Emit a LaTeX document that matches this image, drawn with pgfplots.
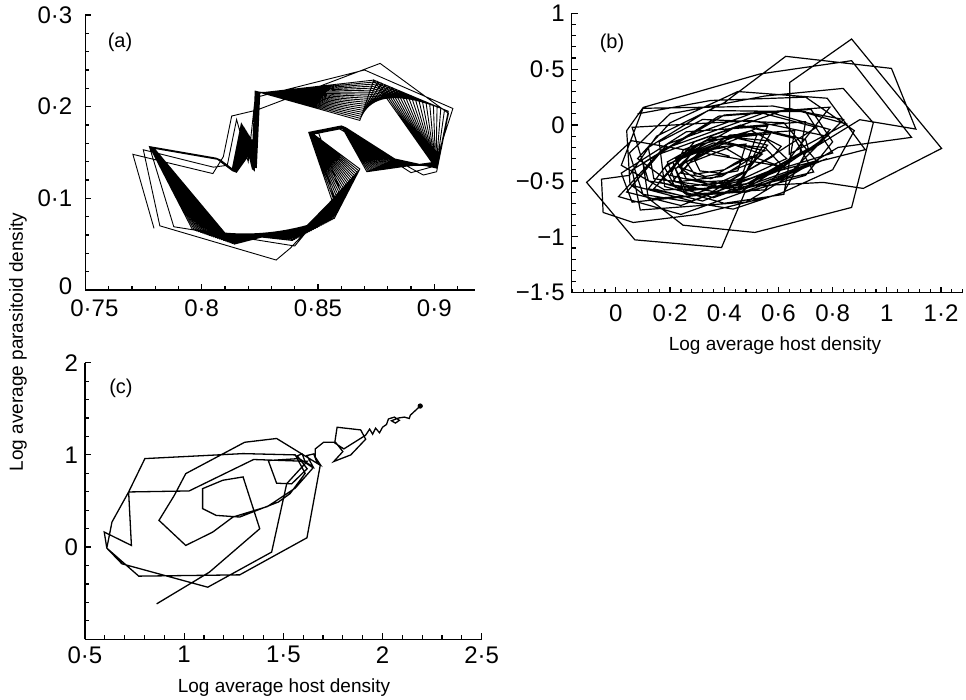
\documentclass[border=0pt]{standalone}
\usepackage{fontspec}
\setmainfont{Liberation Sans}
\usepackage{pgfplots}
\pgfplotsset{compat=1.18}
\begin{document}
\begin{tikzpicture}
\path[use as bounding box] (0pt,0pt) rectangle (483pt,-350pt);
\pgfplotsset{
  every axis/.append style={
    scale only axis, axis x line=bottom, axis y line=left,
    axis line style={-, line width=0.75pt},
    tick style={black, line width=0.6pt},
    major tick length=3pt, minor tick length=2pt, tick align=inside,
    tick label style={font=\fontsize{12}{14}\selectfont},
  }
}
% ---------------- (a)
\begin{axis}[at={(42.7pt,-145pt)}, anchor=south west, width=194.8pt, height=137.5pt,
  xmin=0.75, xmax=0.9175, ymin=0, ymax=0.3,
  xtick={0.75,0.8,0.85,0.9}, xticklabels={\hspace*{9pt}0·75,0·8,0·85,0·9},
  ytick={0,0.1,0.2,0.3}, yticklabels={\raisebox{4pt}{0},0·1,0·2,0·3},
  yticklabel style={xshift=-3pt}, xticklabel style={yshift=-1.5pt},
  minor xtick={0.76,0.77,...,0.915}, minor ytick={0.02,0.04,...,0.29}]
\addplot[black, line width=0.45pt] coordinates {
(0.7795,0.0672)(0.7704,0.1480)(0.8048,0.1270)(0.8093,0.1454)(0.8129,0.1898)(0.8237,0.1963)(0.8767,0.2472)(0.9061,0.1927)(0.9010,0.1290)(0.8953,0.1254)(0.8588,0.1763)(0.8500,0.1730)(0.8600,0.1050)(0.8380,0.0454)(0.8320,0.0327)
(0.7820,0.0700)(0.7749,0.1530)(0.8050,0.1340)(0.8110,0.1360)(0.8150,0.1860)(0.8200,0.1400)(0.8230,0.2100)(0.8700,0.2400)(0.9080,0.1980)(0.9000,0.1350)(0.8900,0.1280)(0.8595,0.1775)(0.8480,0.1730)(0.8570,0.1000)(0.8400,0.0480)(0.7880,0.0690)
(0.7775,0.1565)(0.8060,0.1440)(0.8130,0.1305)(0.8170,0.1810)(0.8215,0.1350)(0.8230,0.2170)(0.8680,0.1850)(0.8740,0.2290)(0.8990,0.1390)(0.8710,0.1290)(0.8600,0.1790)(0.8460,0.1720)(0.8560,0.0980)(0.8390,0.0540)(0.7960,0.0660)
(0.7776,0.1564)(0.8061,0.1439)(0.8131,0.1304)(0.8173,0.1798)(0.8216,0.1349)(0.8231,0.2169)(0.8683,0.1872)(0.8756,0.2273)(0.8991,0.1387)(0.8716,0.1297)(0.8601,0.1789)(0.8461,0.1719)(0.8566,0.0997)(0.8399,0.0552)(0.7969,0.0652)
(0.7777,0.1563)(0.8062,0.1438)(0.8132,0.1303)(0.8176,0.1786)(0.8217,0.1348)(0.8232,0.2168)(0.8686,0.1894)(0.8772,0.2256)(0.8992,0.1384)(0.8722,0.1304)(0.8602,0.1788)(0.8462,0.1718)(0.8572,0.1014)(0.8408,0.0564)(0.7978,0.0644)
(0.7778,0.1562)(0.8063,0.1437)(0.8133,0.1302)(0.8179,0.1774)(0.8218,0.1347)(0.8233,0.2167)(0.8689,0.1916)(0.8788,0.2239)(0.8993,0.1381)(0.8728,0.1311)(0.8603,0.1787)(0.8463,0.1717)(0.8578,0.1031)(0.8417,0.0576)(0.7987,0.0636)
(0.7779,0.1561)(0.8064,0.1436)(0.8134,0.1301)(0.8182,0.1762)(0.8219,0.1346)(0.8234,0.2166)(0.8692,0.1938)(0.8804,0.2222)(0.8994,0.1378)(0.8734,0.1318)(0.8604,0.1786)(0.8464,0.1716)(0.8584,0.1048)(0.8426,0.0588)(0.7996,0.0628)
(0.7780,0.1560)(0.8065,0.1435)(0.8135,0.1300)(0.8185,0.1750)(0.8220,0.1345)(0.8235,0.2165)(0.8695,0.1960)(0.8820,0.2205)(0.8995,0.1375)(0.8740,0.1325)(0.8605,0.1785)(0.8465,0.1715)(0.8590,0.1065)(0.8435,0.0600)(0.8005,0.0620)
(0.7781,0.1559)(0.8066,0.1434)(0.8136,0.1299)(0.8188,0.1738)(0.8221,0.1344)(0.8236,0.2164)(0.8698,0.1982)(0.8836,0.2188)(0.8996,0.1372)(0.8746,0.1332)(0.8606,0.1784)(0.8466,0.1714)(0.8596,0.1082)(0.8444,0.0612)(0.8014,0.0612)
(0.7782,0.1558)(0.8067,0.1433)(0.8137,0.1298)(0.8191,0.1726)(0.8222,0.1343)(0.8237,0.2163)(0.8701,0.2004)(0.8852,0.2171)(0.8997,0.1369)(0.8752,0.1339)(0.8607,0.1783)(0.8467,0.1713)(0.8602,0.1099)(0.8453,0.0624)(0.8023,0.0604)
(0.7783,0.1557)(0.8068,0.1432)(0.8138,0.1297)(0.8194,0.1714)(0.8223,0.1342)(0.8238,0.2162)(0.8704,0.2026)(0.8868,0.2154)(0.8998,0.1366)(0.8758,0.1346)(0.8608,0.1782)(0.8468,0.1712)(0.8608,0.1116)(0.8462,0.0636)(0.8032,0.0596)
(0.7784,0.1556)(0.8069,0.1431)(0.8139,0.1296)(0.8197,0.1702)(0.8224,0.1341)(0.8239,0.2161)(0.8707,0.2048)(0.8884,0.2137)(0.8999,0.1363)(0.8764,0.1353)(0.8609,0.1781)(0.8469,0.1711)(0.8614,0.1133)(0.8471,0.0648)(0.8041,0.0588)
(0.7785,0.1555)(0.8070,0.1430)(0.8140,0.1295)(0.8200,0.1690)(0.8225,0.1340)(0.8240,0.2160)(0.8710,0.2070)(0.8900,0.2120)(0.9000,0.1360)(0.8770,0.1360)(0.8610,0.1780)(0.8470,0.1710)(0.8620,0.1150)(0.8480,0.0660)(0.8050,0.0580)
(0.7786,0.1554)(0.8071,0.1429)(0.8141,0.1294)(0.8203,0.1678)(0.8226,0.1339)(0.8241,0.2159)(0.8713,0.2092)(0.8916,0.2103)(0.9001,0.1357)(0.8776,0.1367)(0.8611,0.1779)(0.8471,0.1709)(0.8626,0.1167)(0.8489,0.0672)(0.8059,0.0572)
(0.7787,0.1553)(0.8072,0.1428)(0.8142,0.1293)(0.8206,0.1666)(0.8227,0.1338)(0.8242,0.2158)(0.8716,0.2114)(0.8932,0.2086)(0.9002,0.1354)(0.8782,0.1374)(0.8612,0.1778)(0.8472,0.1708)(0.8632,0.1184)(0.8498,0.0684)(0.8068,0.0564)
(0.7788,0.1552)(0.8073,0.1427)(0.8143,0.1292)(0.8209,0.1654)(0.8228,0.1337)(0.8243,0.2157)(0.8719,0.2136)(0.8948,0.2069)(0.9003,0.1351)(0.8788,0.1381)(0.8613,0.1777)(0.8473,0.1707)(0.8638,0.1201)(0.8507,0.0696)(0.8077,0.0556)
(0.7789,0.1551)(0.8074,0.1426)(0.8144,0.1291)(0.8212,0.1642)(0.8229,0.1336)(0.8244,0.2156)(0.8722,0.2158)(0.8964,0.2052)(0.9004,0.1348)(0.8794,0.1388)(0.8614,0.1776)(0.8474,0.1706)(0.8644,0.1218)(0.8516,0.0708)(0.8086,0.0548)
(0.7790,0.1550)(0.8075,0.1425)(0.8145,0.1290)(0.8215,0.1630)(0.8230,0.1335)(0.8245,0.2155)(0.8725,0.2180)(0.8980,0.2035)(0.9005,0.1345)(0.8800,0.1395)(0.8615,0.1775)(0.8475,0.1705)(0.8650,0.1235)(0.8525,0.0720)(0.8095,0.0540)
(0.7791,0.1549)(0.8076,0.1424)(0.8146,0.1289)(0.8218,0.1618)(0.8231,0.1334)(0.8246,0.2154)(0.8728,0.2202)(0.8996,0.2018)(0.9006,0.1342)(0.8806,0.1402)(0.8616,0.1774)(0.8476,0.1704)(0.8656,0.1252)(0.8534,0.0732)(0.8104,0.0532)
(0.7792,0.1548)(0.8077,0.1423)(0.8147,0.1288)(0.8221,0.1606)(0.8232,0.1333)(0.8247,0.2153)(0.8731,0.2224)(0.9012,0.2001)(0.9007,0.1339)(0.8812,0.1409)(0.8617,0.1773)(0.8477,0.1703)(0.8662,0.1269)(0.8543,0.0744)(0.8113,0.0524)
(0.7793,0.1547)(0.8078,0.1422)(0.8148,0.1287)(0.8224,0.1594)(0.8233,0.1332)(0.8248,0.2152)(0.8734,0.2246)(0.9028,0.1984)(0.9008,0.1336)(0.8818,0.1416)(0.8618,0.1772)(0.8478,0.1702)(0.8668,0.1286)(0.8552,0.0756)(0.8122,0.0516)
(0.7794,0.1546)(0.8079,0.1421)(0.8149,0.1286)(0.8227,0.1582)(0.8234,0.1331)(0.8249,0.2151)(0.8737,0.2268)(0.9044,0.1967)(0.9009,0.1333)(0.8824,0.1423)(0.8619,0.1771)(0.8479,0.1701)(0.8674,0.1303)(0.8561,0.0768)(0.8131,0.0508)
(0.7795,0.1545)(0.8080,0.1420)(0.8150,0.1285)(0.8230,0.1570)(0.8235,0.1330)(0.8250,0.2150)(0.8740,0.2290)(0.9060,0.1950)(0.9010,0.1330)(0.8830,0.1430)(0.8620,0.1770)(0.8480,0.1700)(0.8680,0.1320)(0.8570,0.0780)(0.8140,0.0500)
(0.7796,0.1544)
};
\end{axis}
% ---------------- (b)
\begin{axis}[at={(285.85pt,-146.35pt)}, anchor=south west, width=195.65pt, height=139.7pt,
  xmin=-0.163, xmax=1.281, ymin=-1.5, ymax=1,
  xtick={0,0.2,0.4,0.6,0.8,1,1.2}, xticklabels={0,0·2,0·4,0·6,0·8,1,1·2},
  ytick={-1.5,-1,-0.5,0,0.5,1}, yticklabels={−1·5,−1,−0·5,0,0·5,1},
  xticklabel style={yshift=-2.5pt},
  minor xtick={-0.16,-0.12,...,1.28}, minor ytick={-1.4,-1.3,...,0.95}]
\addplot[black, line width=0.6pt] coordinates {
(0.42,-0.28)(0.35,-0.23)(0.29,-0.31)(0.31,-0.41)(0.38,-0.43)(0.44,-0.34)
(0.47,-0.30)(0.40,-0.20)(0.28,-0.25)(0.24,-0.38)(0.33,-0.46)(0.45,-0.41)
(0.48,-0.17)(0.37,-0.20)(0.26,-0.33)(0.29,-0.44)(0.40,-0.40)(0.50,-0.28)
(0.62,-0.38)(0.55,-0.20)(0.36,-0.16)(0.22,-0.30)(0.26,-0.48)(0.44,-0.54)
(0.56,-0.18)(0.45,-0.12)(0.30,-0.26)(0.24,-0.43)(0.35,-0.48)(0.50,-0.34)
(0.54,-0.26)(0.44,-0.18)(0.27,-0.34)(0.21,-0.50)(0.32,-0.58)(0.47,-0.42)
(0.52,-0.09)(0.33,-0.14)(0.19,-0.33)(0.22,-0.51)(0.39,-0.46)(0.53,-0.25)
(0.55,-0.23)(0.40,-0.15)(0.19,-0.35)(0.12,-0.57)(0.26,-0.64)(0.47,-0.47)
(0.57,-0.08)(0.35,-0.11)(0.18,-0.38)(0.22,-0.56)(0.41,-0.51)(0.58,-0.28)
(0.61,-0.19)(0.50,-0.05)(0.32,-0.17)(0.23,-0.37)(0.31,-0.51)(0.46,-0.49)
(0.63,-0.30)(0.56,-0.14)(0.38,-0.10)(0.25,-0.22)(0.20,-0.45)(0.38,-0.55)
(0.74,-0.32)(0.62,0.02)(0.32,0.05)(0.16,-0.15)(0.18,-0.55)(0.40,-0.70)(0.62,-0.62)
(0.66,-0.05)(0.42,-0.09)(0.22,-0.39)(0.26,-0.59)(0.48,-0.53)(0.68,-0.25)
(0.70,0.03)(0.44,-0.02)(0.21,-0.33)(0.25,-0.59)(0.50,-0.52)(0.71,-0.21)
(0.70,-0.13)(0.52,-0.03)(0.25,-0.28)(0.14,-0.57)(0.32,-0.68)(0.59,-0.42)
(0.78,-0.10)(0.50,0.04)(0.06,-0.02)(0.12,-0.50)(0.40,-0.61)(0.73,-0.42)
(0.66,-0.12)(0.46,0.00)(0.16,-0.26)(0.04,-0.60)(0.24,-0.72)(0.54,-0.44)
(0.80,-0.25)(0.70,0.12)(0.34,0.13)(0.12,-0.20)(0.14,-0.48)(0.45,-0.58)
(0.56,-0.01)(0.26,-0.06)(0.02,-0.43)(0.06,-0.69)(0.34,-0.62)(0.58,-0.27)
(0.74,-0.02)(0.52,0.12)(0.19,-0.17)(0.06,-0.54)(0.28,-0.68)(0.61,-0.37)
(0.058,-0.14)(-0.108,-0.513)(0.070,-1.027)(0.390,-1.096)(0.476,-0.603)(0.70,-0.45)(0.80,-0.15)
(0.72,0.14)(0.38,0.08)(0.10,-0.34)(0.12,-0.66)(0.46,-0.60)(0.74,-0.18)
(0.79,-0.04)(0.56,0.12)(0.17,-0.22)(0.01,-0.64)(0.24,-0.80)(0.63,-0.46)
(0.84,0.05)(0.58,0.17)(0.10,0.15)(0.02,-0.36)(0.18,-0.58)(0.50,-0.55)(0.78,-0.30)
(0.531,-0.543)(0.765,-0.513)(0.913,-0.567)(1.202,-0.209)(0.870,0.770)(0.642,0.382)(0.640,-0.260)
(0.85,0.01)(0.64,0.15)(0.29,-0.15)(0.16,-0.51)(0.36,-0.65)(0.71,-0.35)
(0.92,-0.22)(0.78,0.24)(0.45,0.30)(0.20,0.02)(0.08,-0.30)(0.26,-0.62)(0.55,-0.58)
(0.79,0.16)(0.40,0.09)(0.06,-0.40)(0.09,-0.76)(0.48,-0.69)(0.82,-0.20)
(1.091,-0.110)(0.870,0.576)(0.531,0.457)(0.101,0.158)(0.040,-0.05)(0.052,-0.528)(0.248,-0.896)(0.513,-0.961)(0.870,-0.737)
(0.95,0.02)(0.839,0.328)(0.55,0.26)(0.20,0.10)(0.05,-0.25)(0.10,-0.62)(0.433,-0.752)(0.62,-0.60)
(0.70,-0.25)(0.900,0.048)(1.107,-0.036)(1.017,0.507)(0.627,0.615)(0.40,0.20)(0.15,-0.10)(0.05,-0.45)
(-0.053,-0.484)(-0.047,-0.782)(0.064,-0.872)(0.30,-0.80)(0.60,-0.62)(0.80,-0.40)(0.88,-0.05)(0.70,0.25)(0.35,0.22)(0.08,0.10)
};
\end{axis}
% ---------------- (c)
\begin{axis}[at={(42.5pt,-319.65pt)}, anchor=south west, width=198.35pt, height=138.3pt,
  xmin=0.5, xmax=2.5, ymin=-1, ymax=2,
  xtick={0.5,1,1.5,2,2.5}, xticklabels={0·5,1,1·5,2,2·5},
  ytick={0,1,2}, yticklabels={0,1,2},
  minor xtick={0.6,0.7,...,2.45}, minor ytick={-0.8,-0.6,...,1.9}]
\addplot[black, line width=0.65pt] coordinates {
(0.861,-0.616)(1.127,-0.272)(1.381,0.199)(1.297,0.761)(1.195,0.725)(1.093,0.634)(1.093,0.417)(1.161,0.344)(1.280,0.326)(1.475,0.489)(1.534,0.580)(1.610,0.800)(1.560,1.000)(1.297,1.014)(0.802,0.960)(0.720,0.598)(0.734,0.018)(0.597,0.163)(0.610,-0.011)(0.686,-0.181)(1.119,-0.435)(1.441,-0.054)(1.517,0.688)(1.620,0.930)(1.350,0.950)(1.025,0.609)(0.720,0.598)(0.636,0.272)(0.610,-0.011)(0.771,-0.315)(1.280,-0.301)(1.619,0.101)(1.686,0.888)(1.466,1.178)(1.305,1.137)(1.008,0.797)(0.950,0.560)(0.873,0.290)(1.008,0.018)(1.144,0.163)(1.246,0.326)(1.420,0.440)(1.560,0.640)(1.650,0.860)(1.580,0.960)(1.424,0.939)(1.466,0.693)(1.542,0.686)(1.620,0.850)(1.570,0.990)(1.595,1.011)(1.610,0.925)(1.650,0.870)(1.619,0.993)(1.653,1.011)(1.669,0.921)(1.686,0.895)(1.661,0.975)(1.661,1.065)(1.703,1.137)(1.763,1.137)(1.800,1.036)(1.754,0.928)(1.840,1.000)(1.915,1.170)(1.890,1.271)(1.771,1.300)(1.759,1.130)(1.805,1.065)(1.905,1.200)(1.915,1.214)(1.935,1.280)(1.950,1.225)(1.965,1.290)(1.985,1.240)(2.000,1.300)(2.020,1.330)(2.030,1.390)(2.060,1.410)(2.085,1.375)(2.065,1.345)(2.045,1.370)(2.080,1.400)(2.110,1.410)(2.135,1.395)(2.140,1.430)(2.160,1.470)(2.190,1.530)
};
\addplot[black, only marks, mark=*, mark size=1.1pt] coordinates {(2.190,1.530)};
\end{axis}
% ---------------- labels
\node[font=\fontsize{9.5}{11}\selectfont, rotate=90] at (9pt,-171pt) {Log average parasitoid density};
\node[font=\fontsize{9.5}{11}\selectfont] at (387.5pt,-173pt) {Log average host density};
\node[font=\fontsize{9.5}{11}\selectfont] at (142pt,-344pt) {Log average host density};
\node[font=\fontsize{10}{12}\selectfont] at (60pt,-21pt) {(a)};
\node[font=\fontsize{10}{12}\selectfont] at (306pt,-21.5pt) {(b)};
\node[font=\fontsize{10}{12}\selectfont] at (60.5pt,-194pt) {(c)};
\end{tikzpicture}
\end{document}
